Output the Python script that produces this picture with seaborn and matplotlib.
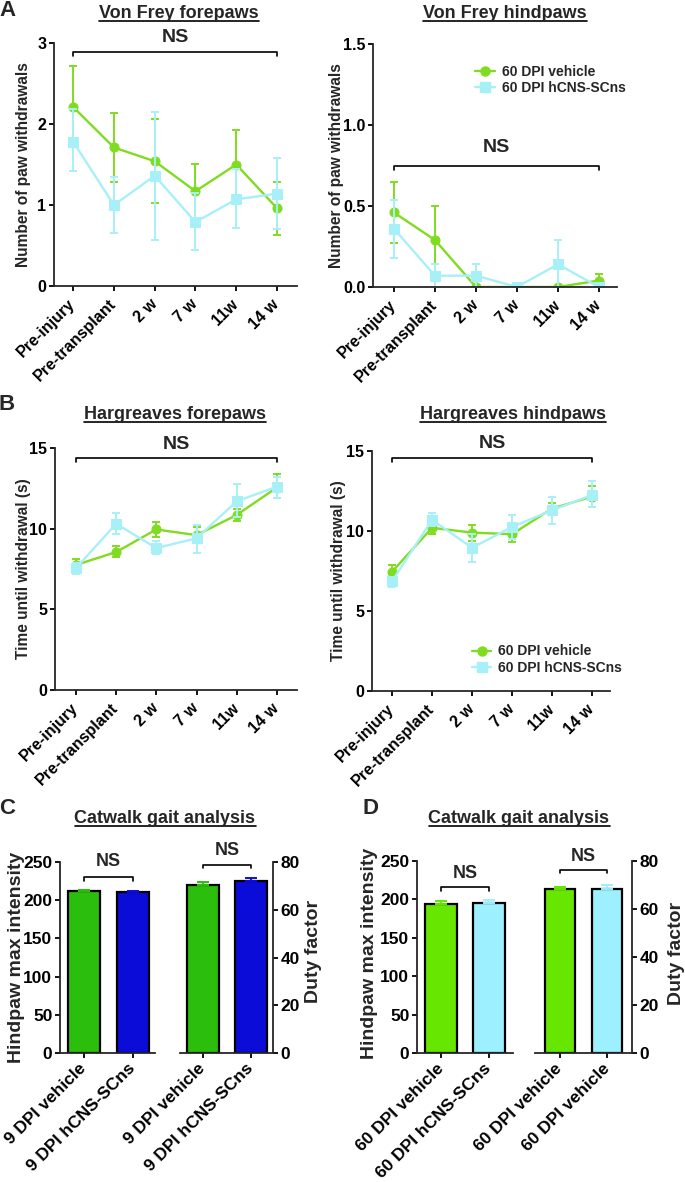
import matplotlib
matplotlib.use('Agg')
import matplotlib.pyplot as plt
from matplotlib.lines import Line2D
import numpy as np
import pandas as pd
import seaborn as sns

# time points of the behavioural tests
timepoints = ["Pre-injury", "Pre-transplant", "2 w", "7 w", "11w", "14 w"]

# A - Von Frey forepaws (mean, upper / lower error)
vf_fore_veh = [2.21, 1.71, 1.54, 1.17, 1.50, 0.96]
vf_fore_veh_hi = [2.72, 2.14, 2.06, 1.51, 1.92, 1.29]
vf_fore_veh_lo = [1.71, 1.28, 1.02, 0.83, 1.08, 0.63]
vf_fore_scn = [1.78, 1.00, 1.36, 0.79, 1.07, 1.14]
vf_fore_scn_hi = [2.18, 1.34, 2.15, 1.15, 1.45, 1.58]
vf_fore_scn_lo = [1.42, 0.66, 0.57, 0.45, 0.71, 0.70]

# A - Von Frey hindpaws
vf_hind_veh = [0.46, 0.29, 0.0, 0.0, 0.0, 0.04]
vf_hind_veh_hi = [0.65, 0.50, 0.0, 0.0, 0.0, 0.08]
vf_hind_veh_lo = [0.27, 0.08, 0.0, 0.0, 0.0, 0.0]
vf_hind_scn = [0.36, 0.07, 0.07, 0.0, 0.14, 0.0]
vf_hind_scn_hi = [0.54, 0.14, 0.14, 0.0, 0.29, 0.0]
vf_hind_scn_lo = [0.18, 0.0, 0.0, 0.0, 0.0, 0.0]

# B - Hargreaves forepaws
hg_fore_veh = [7.75, 8.55, 9.95, 9.6, 10.85, 12.55]
hg_fore_veh_hi = [8.1, 8.9, 10.4, 10.1, 11.2, 13.4]
hg_fore_veh_lo = [7.3, 8.25, 9.5, 9.1, 10.5, 11.9]
hg_fore_scn = [7.55, 10.3, 8.8, 9.4, 11.7, 12.6]
hg_fore_scn_hi = [7.9, 10.95, 9.25, 10.2, 12.75, 13.2]
hg_fore_scn_lo = [7.2, 9.65, 8.4, 8.5, 10.7, 11.9]

# B - Hargreaves hindpaws
hg_hind_veh = [7.45, 10.2, 9.9, 9.8, 11.4, 12.15]
hg_hind_veh_hi = [7.9, 10.6, 10.35, 10.1, 11.75, 12.8]
hg_hind_veh_lo = [7.1, 9.8, 9.4, 9.3, 11.05, 11.5]
hg_hind_scn = [6.85, 10.7, 8.95, 10.25, 11.3, 12.25]
hg_hind_scn_hi = [7.1, 11.1, 9.8, 11.0, 12.1, 13.1]
hg_hind_scn_lo = [6.5, 10.3, 8.05, 9.5, 10.45, 11.5]

# C - catwalk 9 DPI
cw9_labels = ["9 DPI vehicle", "9 DPI hCNS-SCns"]
cw9_intensity = [212, 211]
cw9_intensity_err = [2, 1.5]
cw9_duty = [70.5, 72.1]
cw9_duty_err = [1.2, 1.4]

# D - catwalk 60 DPI
cw60_labels_left = ["60 DPI vehicle", "60 DPI hCNS-SCns"]
cw60_labels_right = ["60 DPI vehicle", "60 DPI vehicle"]
cw60_intensity = [194.5, 195.5]
cw60_intensity_err = [4, 4]
cw60_duty = [68.2, 68.5]
cw60_duty_err = [1.1, 1.7]

GREEN = "#80dc20"
CYAN = "#a8f0f8"
C_GREEN = "#2cbe0c"
C_BLUE = "#0c0cd8"
D_GREEN = "#66e600"
D_CYAN = "#9cf0ff"

sns.set_style("ticks")
plt.rcParams['font.family'] = ['Liberation Sans', 'DejaVu Sans']
plt.rcParams['font.weight'] = 'bold'
plt.rcParams['axes.labelweight'] = 'bold'
plt.rcParams['axes.linewidth'] = 1.3
plt.rcParams['xtick.major.width'] = 1.3
plt.rcParams['ytick.major.width'] = 1.3
plt.rcParams['xtick.major.size'] = 3.5
plt.rcParams['ytick.major.size'] = 3.5
plt.rcParams['xtick.color'] = 'black'
plt.rcParams['ytick.color'] = 'black'

W, H = 685, 1182
fig = plt.figure(figsize=(W / 100, H / 100), dpi=100)


def px_rect(left, top, right, bottom):
    return [left / W, 1 - bottom / H, (right - left) / W, (bottom - top) / H]


def bracket(ax, x0, x1, y, d, text_y, size):
    ax.plot([x0, x0, x1, x1], [y - d, y, y, y - d], color='black', lw=1.2, clip_on=False)
    ax.text((x0 + x1) / 2, text_y, "NS", ha='center', va='center', fontsize=size,
            fontweight='bold', clip_on=False)


def line_panel(rect, xlim, ylim, yticks, ylabel, label_x, veh, veh_hi, veh_lo, scn, scn_hi, scn_lo,
               ns_y, ns_d, ns_text_y, yfmt="{:g}"):
    ax = fig.add_axes(rect)
    pos = np.arange(len(timepoints))
    series = [(veh, veh_hi, veh_lo, GREEN, 'o'), (scn, scn_hi, scn_lo, CYAN, 's')]
    for vals, hi, lo, col, mk in series:
        vals = np.array(vals)
        df = pd.DataFrame({'t': pos, 'v': vals})
        sns.lineplot(data=df, x='t', y='v', color=col, marker=mk, markersize=6.5,
                     markeredgecolor=col, linewidth=1.7, ax=ax)
        ax.errorbar(pos, vals, yerr=[vals - np.array(lo), np.array(hi) - vals], fmt='none',
                    ecolor=col, elinewidth=1.4, capsize=3.2, capthick=1.4)
    ax.set_xlim(*xlim)
    ax.set_ylim(*ylim)
    ax.set_xticks(pos)
    ax.set_xticklabels(timepoints, rotation=45, ha='right', va='center', rotation_mode='anchor',
                       fontsize=11.5, fontweight='bold')
    ax.tick_params(axis='x', pad=8)
    ax.tick_params(axis='y', pad=2)
    ax.set_yticks(yticks)
    ax.set_yticklabels([yfmt.format(v) for v in yticks], fontsize=11.5, fontweight='bold')
    ax.set_xlabel("")
    ax.set_ylabel(ylabel, fontsize=11.2, fontweight='bold')
    ax.yaxis.set_label_coords(label_x, 0.5)
    sns.despine(ax=ax)
    bracket(ax, 0, len(timepoints) - 1, ns_y, ns_d, ns_text_y, 14)
    return ax


def add_legend(ax, anchor):
    handles = [Line2D([], [], color=GREEN, marker='o', markersize=6.5, lw=1.7),
               Line2D([], [], color=CYAN, marker='s', markersize=6.5, lw=1.7)]
    ax.legend(handles, ["60 DPI vehicle", "60 DPI hCNS-SCns"], loc='center left',
              bbox_to_anchor=anchor, frameon=False, fontsize=10, handlelength=1.4,
              handletextpad=0.5, borderpad=0, borderaxespad=0, labelspacing=0.2)


def bar_panel(rect, xlim, ylim, yticks, labels, vals, errs, colors, ylabel, label_x, label_y,
              right, ns_y, ns_d, ns_text_y):
    ax = fig.add_axes(rect)
    df = pd.DataFrame({'g': ['a', 'b'], 'v': vals})
    sns.barplot(data=df, x='g', y='v', hue='g', palette=colors, width=0.65, edgecolor='black',
                linewidth=1.6, saturation=1, legend=False, ax=ax)
    for i, (v, e, c) in enumerate(zip(vals, errs, colors)):
        ax.errorbar(i, v, yerr=[[0], [e]], fmt='none', ecolor=c, elinewidth=1.4, capsize=4,
                    capthick=1.4, zorder=3)
    ax.set_xlim(*xlim)
    ax.set_ylim(*ylim)
    ax.set_xticks([0, 1])
    ax.set_xticklabels(labels, rotation=45, ha='right', va='center', rotation_mode='anchor',
                       fontsize=12.5, fontweight='bold')
    ax.tick_params(axis='x', pad=6)
    ax.tick_params(axis='y', pad=2)
    ax.set_yticks(yticks)
    ax.set_yticklabels([str(v) for v in yticks], fontsize=12.5, fontweight='bold')
    ax.set_xlabel("")
    if right:
        sns.despine(ax=ax, left=True, right=False)
        ax.yaxis.tick_right()
        ax.yaxis.set_label_position('right')
    else:
        sns.despine(ax=ax)
    ax.set_ylabel(ylabel, fontsize=14, fontweight='bold')
    ax.yaxis.set_label_coords(label_x, label_y)
    bracket(ax, 0, 1, ns_y, ns_d, ns_text_y, 13)
    return ax


# Panel A
line_panel(px_rect(54, 43, 297, 286), (-0.47, 5.49), (0, 3), [0, 1, 2, 3],
           "Number of paw withdrawals", -0.095,
           vf_fore_veh, vf_fore_veh_hi, vf_fore_veh_lo, vf_fore_scn, vf_fore_scn_hi, vf_fore_scn_lo,
           2.89, 0.045, 3.07)
ax_ar = line_panel(px_rect(373, 44, 617, 287), (-0.51, 5.44), (0, 1.5), [0, 0.5, 1.0, 1.5],
                   "Number of paw withdrawals", -0.12,
                   vf_hind_veh, vf_hind_veh_hi, vf_hind_veh_lo, vf_hind_scn, vf_hind_scn_hi,
                   vf_hind_scn_lo, 0.744, 0.022, 0.86, yfmt="{:.1f}")
add_legend(ax_ar, (0.42, 0.852))

# Panel B
line_panel(px_rect(55, 448, 297, 690), (-0.52, 5.5), (0, 15), [0, 5, 10, 15],
           "Time until withdrawal (s)", -0.1,
           hg_fore_veh, hg_fore_veh_hi, hg_fore_veh_lo, hg_fore_scn, hg_fore_scn_hi, hg_fore_scn_lo,
           14.36, 0.22, 15.2)
ax_br = line_panel(px_rect(372, 451, 610, 691), (-0.5, 5.45), (0, 15), [0, 5, 10, 15],
                   "Time until withdrawal (s)", -0.11,
                   hg_hind_veh, hg_hind_veh_hi, hg_hind_veh_lo, hg_hind_scn, hg_hind_scn_hi,
                   hg_hind_scn_lo, 14.54, 0.22, 15.5)
add_legend(ax_br, (0.42, 0.13))

# Panel C
bar_panel(px_rect(60, 862, 155, 1053), (-0.49, 1.45), (0, 250), [0, 50, 100, 150, 200, 250],
          cw9_labels, cw9_intensity, cw9_intensity_err, [C_GREEN, C_BLUE],
          "Hindpaw max intensity", -0.37, 0.5, False, 230, 4.5, 251)
bar_panel(px_rect(180, 862, 273, 1053), (-0.48, 1.46), (0, 80), [0, 20, 40, 60, 80],
          cw9_labels, cw9_duty, cw9_duty_err, [C_GREEN, C_BLUE],
          "Duty factor", 1.34, 0.53, True, 78.9, 1.5, 85)

# Panel D
bar_panel(px_rect(417, 861, 513, 1053), (-0.5, 1.5), (0, 250), [0, 50, 100, 150, 200, 250],
          cw60_labels_left, cw60_intensity, cw60_intensity_err, [D_GREEN, D_CYAN],
          "Hindpaw max intensity", -0.41, 0.52, False, 216, 4.5, 234)
bar_panel(px_rect(535, 861, 632, 1053), (-0.53, 1.53), (0, 80), [0, 20, 40, 60, 80],
          cw60_labels_right, cw60_duty, cw60_duty_err, [D_GREEN, D_CYAN],
          "Duty factor", 1.37, 0.52, True, 76.3, 1.5, 82)

# titles, underlined
renderer = fig.canvas.get_renderer()
titles = [("Von Frey forepaws", 179, 18), ("Von Frey hindpaws", 505, 18),
          ("Hargreaves forepaws", 175, 419), ("Hargreaves hindpaws", 513, 419),
          ("Catwalk gait analysis", 165, 823), ("Catwalk gait analysis", 519, 823)]
for txt, xc, yb in titles:
    t = fig.text(xc / W, 1 - yb / H, txt, ha='center', va='baseline', fontsize=13,
                 fontweight='bold')
    bb = t.get_window_extent(renderer)
    yl = 1 - (yb + 3) / H
    fig.add_artist(Line2D([bb.x0 / W, bb.x1 / W], [yl, yl], color='black', lw=1.2))

for letter, x, y in [("A", 8, 10), ("B", 7, 405), ("C", 7, 809), ("D", 370, 809)]:
    fig.text(x / W, 1 - y / H, letter, ha='center', va='center', fontsize=16, fontweight='bold')

fig.savefig("out.png", dpi=100)
